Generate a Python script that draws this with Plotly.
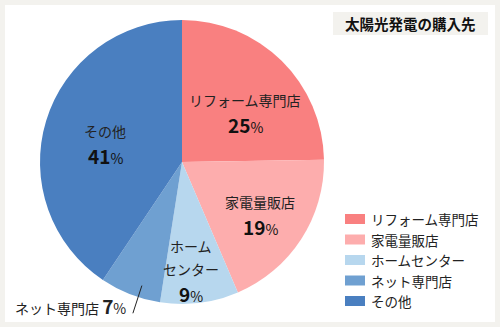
import math
import plotly.graph_objects as go

W, H = 500, 327

labels = ["リフォーム専門店", "家電量販店", "ホームセンター", "ネット専門店", "その他"]
values = [25, 19, 9, 7, 41]
colors = ["#f98080", "#fdadad", "#b7d7ee", "#6fa0d1", "#4a7fc0"]
# name lines drawn inside each slice (None = labelled outside)
inside_names = [["リフォーム専門店"], ["家電量販店"], ["ホーム", "センター"], None, ["その他"]]
# centre of the first text line of each in-slice label, in pixels
label_xy = [(245, 100), (260, 202), (191, 246), None, (105, 131)]
LINE = 23  # pixel step between label lines

title = "太陽光発電の購入先"
FONT = "Noto Sans CJK JP"
TEXT = "#222222"

# pie geometry in pixels
cx, cy, R = 182, 162, 142


def px(x):
    return x / W


def py(y):
    return 1 - y / H


def value_text(v):
    return f"<b><span style='font-size:19px'>{v}</span></b>%"


fig = go.Figure()
fig.add_trace(go.Pie(
    labels=labels,
    values=values,
    marker=dict(colors=colors, line=dict(width=0)),
    sort=False,
    direction="clockwise",
    rotation=0,
    textinfo="none",
    hoverinfo="label+percent",
    showlegend=False,
    domain=dict(x=[px(cx - R), px(cx + R)], y=[py(cy + R), py(cy - R)]),
))

total = sum(values)
annotations = []
shapes = [dict(type="rect", xref="paper", yref="paper",
               x0=px(5), x1=px(495), y0=py(322), y1=py(5),
               fillcolor="white", line=dict(width=0), layer="below")]


def text_at(x, y, text, size=14, anchor="center", color=TEXT):
    annotations.append(dict(
        x=px(x), y=py(y), xref="paper", yref="paper",
        xanchor=anchor, yanchor="middle", showarrow=False,
        text=text, font=dict(family=FONT, size=size, color=color)))


cum = 0
for name, v, lines, xy in zip(labels, values, inside_names, label_xy):
    mid = (cum + v / 2) / total * 2 * math.pi
    cum += v
    if lines is None:
        # thin slice: label outside with a short leader line
        ang = mid - math.radians(3.4)
        x0, y0 = cx + R * 0.915 * math.sin(ang), cy - R * 0.915 * math.cos(ang)
        x1, y1 = cx + R * 1.12 * math.sin(ang), cy - R * 1.12 * math.cos(ang)
        shapes.append(dict(type="line", xref="paper", yref="paper",
                           x0=px(x0), y0=py(y0), x1=px(x1), y1=py(y1),
                           line=dict(color="#222222", width=1)))
        text_at(x1 - 5, y1 - 8, f"{name} {value_text(v)}", size=14, anchor="right")
        continue
    lx, ly = xy
    for i, ln in enumerate(lines):
        text_at(lx, ly + i * LINE, ln)
    text_at(lx, ly + len(lines) * LINE + 1, value_text(v), color="#111111")

# title box
shapes.append(dict(type="rect", xref="paper", yref="paper",
                   x0=px(333), x1=px(488), y0=py(35), y1=py(12),
                   fillcolor="#f3f2ee", line=dict(width=0)))
text_at(410.5, 23.5, f"<b>{title}</b>", size=14.5, color="#111111")

# legend
for i, (name, col) in enumerate(zip(labels, colors)):
    yc = 219 + i * 20.5
    shapes.append(dict(type="rect", xref="paper", yref="paper",
                       x0=px(345), x1=px(365), y0=py(yc + 5), y1=py(yc - 5),
                       fillcolor=col, line=dict(width=0)))
    text_at(369, yc, name, size=13.5, anchor="left")

fig.update_layout(
    width=W, height=H,
    margin=dict(l=0, r=0, t=0, b=0),
    paper_bgcolor="#f3f2ee",
    plot_bgcolor="white",
    font=dict(family=FONT),
    showlegend=False,
    annotations=annotations,
    shapes=shapes,
)

fig.write_html("out.html")
